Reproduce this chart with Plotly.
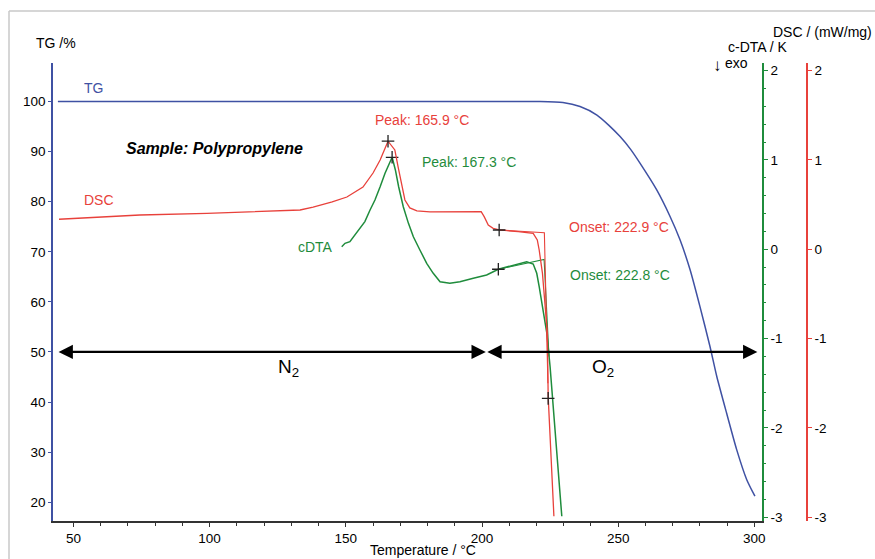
import plotly.graph_objects as go

# ---------------- data ----------------
tg_T = [44.3, 100, 150, 200, 221.3, 229.7, 236.0, 242.2, 246.5, 250.7, 254.5, 258.0,
        264.1, 269.0, 272.7, 276.4, 280.0, 283.7, 286.2, 289.8, 293.5, 297.2, 300.2]
tg_v = [100, 100, 100, 100, 100, 99.8, 99.0, 97.3, 95.3, 93.0, 90.5, 87.7,
        82.4, 77.1, 72.4, 66.4, 59.1, 51.1, 45.1, 37.8, 30.5, 24.5, 21.2]

dsc_T = [44.7, 74.4, 99.0, 123.3, 133.2, 138.0, 145.0, 150.4, 156.3, 160.0, 162.6,
         165.5, 168.0, 169.2, 170.6, 171.7, 173.5, 176.1, 180.9, 199.7, 200.8,
         202.3, 204.1, 206.3, 213.3, 218.8, 220.3, 221.0, 222.2, 222.9, 224.0,
         224.3, 226.4]
dsc_v = [0.336, 0.384, 0.403, 0.425, 0.440, 0.473, 0.53, 0.585, 0.697, 0.854, 0.999,
         1.21, 1.112, 0.922, 0.698, 0.552, 0.463, 0.429, 0.418, 0.421, 0.365,
         0.272, 0.235, 0.216, 0.197, 0.179, 0.104, -0.008, -0.27, -0.57, -0.94,
         -1.65, -2.99]

cdta_T = [148.5, 149.7, 151.5, 153.4, 155.2, 157.0, 158.9, 160.7, 162.6, 164.4,
          167.0, 168.2, 169.4, 171.1, 173.0, 174.8, 177.2, 179.7, 182.1, 184.6,
          188.2, 191.9, 196.8, 201.7, 206.0, 211.5, 216.4, 218.8, 220.1, 221.0,
          222.3, 223.8, 225.0, 226.0, 229.3]
cdta_v = [0.029, 0.067, 0.085, 0.16, 0.235, 0.31, 0.44, 0.552, 0.70, 0.851,
          1.03, 0.888, 0.70, 0.477, 0.29, 0.14, -0.008, -0.157, -0.269, -0.363,
          -0.381, -0.363, -0.325, -0.288, -0.224, -0.176, -0.139, -0.165, -0.269, -0.419,
          -0.643, -0.94, -1.315, -1.69, -2.99]

# onset tangent constructions
dsc_tan_T = [206.3, 222.9, 224.2]
dsc_tan_v = [0.216, 0.185, -1.5]
cdta_tan_T = [206.0, 222.8, 224.6]
cdta_tan_v = [-0.224, -0.115, -1.2]

# evaluation markers
dsc_mark_T = [165.5, 206.3, 224.3]
dsc_mark_v = [1.21, 0.216, -1.67]
cdta_mark_T = [167.0, 206.0]
cdta_mark_v = [1.03, -0.224]

# gas atmosphere arrows (TG axis units)
n2_span = [44.0, 201.4]
o2_span = [201.4, 301.1]
arrow_level = 50

x_ticks = [50, 100, 150, 200, 250, 300]
tg_ticks = [20, 30, 40, 50, 60, 70, 80, 90, 100]
right_ticks = [-3, -2, -1, 0, 1, 2]
right_tick_text = ["-3", "-2", "-1", "0", "1", "2"]

# ---------------- style ----------------
BLUE = "#3f51a3"
RED = "#e8413b"
GREEN = "#1f8c3c"
FONT = "Liberation Sans, Arial, sans-serif"

W, H = 875, 559
L, R, T, B = 53, 68, 63, 38
PW, PH = W - L - R, H - T - B
XEND = (762 - L) / PW


def P(px, py):
    return (px - L) / PW, (H - B - py) / PH


fig = go.Figure()

fig.add_trace(go.Scatter(x=tg_T, y=tg_v, mode="lines",
                         line=dict(color=BLUE, width=1.5, shape="spline", smoothing=0.6),
                         yaxis="y", showlegend=False, hoverinfo="skip"))
fig.add_trace(go.Scatter(x=dsc_T, y=dsc_v, mode="lines", line=dict(color=RED, width=1.3),
                         yaxis="y3", showlegend=False, hoverinfo="skip"))
fig.add_trace(go.Scatter(x=dsc_tan_T, y=dsc_tan_v, mode="lines", line=dict(color=RED, width=1.1),
                         yaxis="y3", showlegend=False, hoverinfo="skip"))
fig.add_trace(go.Scatter(x=cdta_T, y=cdta_v, mode="lines", line=dict(color=GREEN, width=1.5),
                         yaxis="y2", showlegend=False, hoverinfo="skip"))
fig.add_trace(go.Scatter(x=cdta_tan_T, y=cdta_tan_v, mode="lines", line=dict(color=GREEN, width=1.1),
                         yaxis="y2", showlegend=False, hoverinfo="skip"))
fig.add_trace(go.Scatter(x=dsc_mark_T, y=dsc_mark_v, mode="markers",
                         marker=dict(symbol="cross-thin", size=9, line=dict(color="#222", width=1.3)),
                         yaxis="y3", showlegend=False, hoverinfo="skip"))
fig.add_trace(go.Scatter(x=cdta_mark_T, y=cdta_mark_v, mode="markers",
                         marker=dict(symbol="cross-thin", size=9, line=dict(color="#222", width=1.3)),
                         yaxis="y2", showlegend=False, hoverinfo="skip"))

ann = []


def label(text, px, py, color="black", size=14, anchor="left", **kw):
    x, y = P(px, py)
    ann.append(dict(text=text, x=x, y=y, xref="paper", yref="paper", xanchor=anchor,
                    yanchor="middle", showarrow=False,
                    font=dict(family=FONT, size=size, color=color), **kw))


label("TG /%", 34, 43)
label("c-DTA / K", 726, 47)
label("DSC / (mW/mg)", 771, 32)
label("↓", 711, 66, size=17)
label("exo", 723, 63)
label("TG", 82, 88, BLUE)
label("<b><i>Sample: Polypropylene</i></b>", 124, 148, size=16)
label("DSC", 82, 200, RED)
label("cDTA", 296, 247, GREEN)
label("Peak: 165.9 °C", 373, 120, RED)
label("Peak: 167.3 °C", 420, 162, GREEN)
label("Onset: 222.9 °C", 567, 227, RED)
label("Onset: 222.8 °C", 568, 275, GREEN)
label("N<sub>2</sub>", 276, 368, size=19)
label("O<sub>2</sub>", 590, 368, size=19)
label("Temperature / °C", 368, 550)

for span in (n2_span, o2_span):
    ann.append(dict(x=span[1], y=arrow_level, ax=span[0], ay=arrow_level,
                    xref="x", yref="y", axref="x", ayref="y", text="",
                    showarrow=True, arrowside="end+start", arrowhead=2,
                    arrowsize=1.3, arrowwidth=2.2, arrowcolor="black"))

fx0, fy0 = P(9, 0)
fx1, fy1 = P(W + 5, 11)
shapes = [
    dict(type="line", xref="paper", yref="paper", x0=fx0, x1=fx0, y0=P(0, H + 5)[1], y1=fy1,
         line=dict(color="#c9c9c9", width=1.5)),
    dict(type="line", xref="paper", yref="paper", x0=fx0, x1=fx1, y0=fy1, y1=fy1,
         line=dict(color="#c9c9c9", width=1.5)),
]

tickfont = dict(family=FONT, size=13.5, color="black")

fig.update_layout(
    width=W, height=H,
    margin=dict(l=L, r=R, t=T, b=B, pad=0),
    paper_bgcolor="white", plot_bgcolor="white",
    showlegend=False,
    annotations=ann, shapes=shapes,
    xaxis=dict(domain=[0, XEND], range=[42.5, 302.8], tickvals=x_ticks,
               showgrid=False, zeroline=False, showline=True, linecolor="#333", linewidth=1.5,
               ticks="outside", ticklen=4, tickcolor="#333", tickfont=tickfont,
               minor=dict(dtick=10, ticks="outside", ticklen=3, tickcolor="#333"),
               fixedrange=True),
    yaxis=dict(range=[16.25, 107.7], tickvals=tg_ticks, side="left",
               showgrid=False, zeroline=False, showline=True, linecolor=BLUE, linewidth=1.5,
               ticks="outside", ticklen=3, tickcolor=BLUE, tickfont=tickfont,
               fixedrange=True),
    yaxis2=dict(range=[-3.043, 2.086], tickvals=right_ticks, ticktext=right_tick_text,
                overlaying="y", side="right",
                anchor="x", showgrid=False, zeroline=False, showline=True,
                linecolor=GREEN, linewidth=1.5, ticks="outside", ticklen=4, tickcolor=GREEN,
                tickfont=tickfont, minor=dict(dtick=0.2, ticks="outside", ticklen=2, tickcolor=GREEN),
                fixedrange=True),
    yaxis3=dict(range=[-3.043, 2.086], tickvals=right_ticks, ticktext=right_tick_text,
                overlaying="y", side="right",
                anchor="free", position=1.0, showgrid=False, zeroline=False, showline=True,
                linecolor=RED, linewidth=1.5, ticks="outside", ticklen=4, tickcolor=RED,
                tickfont=tickfont, fixedrange=True),
)

fig.write_html("out.html", config={"displayModeBar": False},
               post_script="document.body.style.margin='0';")
